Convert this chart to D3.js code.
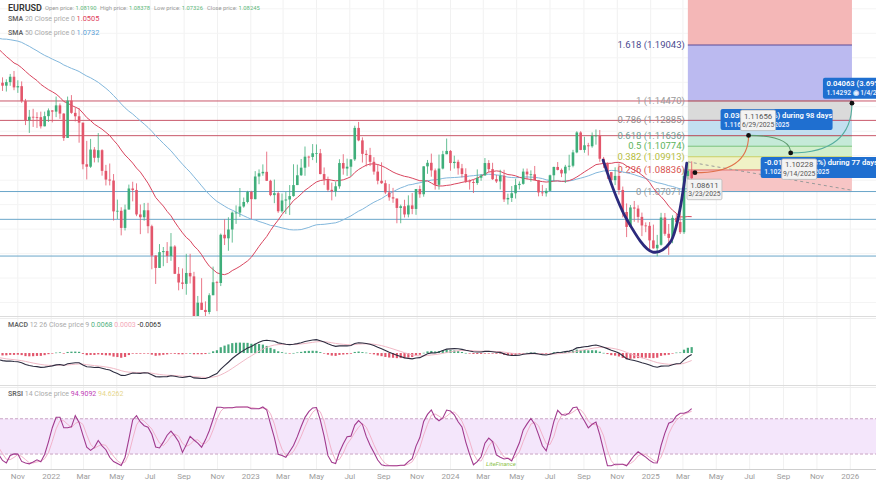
<!DOCTYPE html>
<html>
<head>
<meta charset="utf-8">
<script src="https://cdn.jsdelivr.net/npm/d3@7/dist/d3.min.js"></script>
<style>
  body { margin: 0; background: #fff; font-family: Roboto, "Open Sans", sans-serif; }
  svg { display: block; }
</style>
</head>
<body>
<svg id="chart" width="876" height="483"></svg>
<script>
// weekly EURUSD, weeks start on Monday
var firstWeek = "2021-10-04";

// closes before the visible range (Jun 2020 - Sep 2021), only used by the indicators
var preCloses = [
  1.1290, 1.1255, 1.1177, 1.1220, 1.1247, 1.1300, 1.1427, 1.1655, 1.1778, 1.1788, 1.1842, 1.1795, 1.1903,
  1.1838, 1.1846, 1.1838, 1.1631, 1.1715, 1.1825, 1.1718, 1.1860, 1.1647, 1.1875, 1.1833, 1.1858, 1.1963,
  1.2121, 1.2110, 1.2255, 1.2185, 1.2215,
  1.2219, 1.2077, 1.2170, 1.2136, 1.2047, 1.2119, 1.2119, 1.2075, 1.1915, 1.1950, 1.1905, 1.1795, 1.1762,
  1.1899, 1.1983, 1.2097, 1.2020, 1.2165, 1.2142, 1.2180, 1.2193, 1.2166, 1.2107, 1.1863, 1.1935, 1.1865,
  1.1875, 1.1807, 1.1771, 1.1871, 1.1761, 1.1795, 1.1699, 1.1795, 1.1880, 1.1814, 1.1726, 1.1718, 1.1596
];

var closes = [
  // 2021
  1.1572, 1.1601, 1.1645, 1.1558, 1.1568, 1.1446, 1.1289, 1.1318, 1.1316, 1.1315, 1.1240, 1.1323, 1.1370,
  // 2022
  1.1360, 1.1411, 1.1344, 1.1145, 1.1450, 1.1350, 1.1322, 1.1270, 1.0930, 1.0910, 1.1050, 1.0983, 1.1045,
  1.0876, 1.0805, 1.0797, 1.0545, 1.0550, 1.0410, 1.0560, 1.0732, 1.0720, 1.0520, 1.0497, 1.0554, 1.0424,
  1.0184, 1.0083, 1.0212, 1.0221, 1.0181, 1.0258, 1.0035, 0.9964, 0.9953, 1.0042, 1.0014, 0.9690, 0.9799,
  0.9740, 0.9723, 0.9860, 0.9966, 0.9960, 1.0354, 1.0325, 1.0397, 1.0535, 1.0535, 1.0585, 1.0622, 1.0705,
  // 2023
  1.0645, 1.0830, 1.0856, 1.0868, 1.0795, 1.0678, 1.0694, 1.0546, 1.0634, 1.0642, 1.0670, 1.0760, 1.0840,
  1.0902, 1.0992, 1.0990, 1.1020, 1.1020, 1.0850, 1.0805, 1.0721, 1.0709, 1.0750, 1.0940, 1.0895, 1.0910,
  1.0970, 1.1227, 1.1125, 1.1015, 1.1006, 1.0950, 1.0870, 1.0795, 1.0775, 1.0700, 1.0660, 1.0650, 1.0573,
  1.0587, 1.0520, 1.0594, 1.0565, 1.0728, 1.0685, 1.0913, 1.0942, 1.0880, 1.0762, 1.0895, 1.1012, 1.1039,
  // 2024
  1.0940, 1.0950, 1.0897, 1.0850, 1.0790, 1.0785, 1.0777, 1.0820, 1.0838, 1.0940, 1.0890, 1.0808, 1.0790,
  1.0837, 1.0643, 1.0655, 1.0693, 1.0760, 1.0770, 1.0870, 1.0847, 1.0848, 1.0800, 1.0700, 1.0693, 1.0713,
  1.0840, 1.0908, 1.0884, 1.0855, 1.0910, 1.0918, 1.1027, 1.1190, 1.1047, 1.1085, 1.1077, 1.1163, 1.1165,
  1.0975, 1.0937, 1.0866, 1.0800, 1.0835, 1.0720, 1.0540, 1.0418, 1.0577, 1.0568, 1.0500, 1.0430, 1.0427, 1.0308,
  // 2025
  1.0243, 1.0272, 1.0495, 1.0362, 1.0328, 1.0492, 1.0458, 1.0375, 1.0834, 1.0877, 1.0816
];

var highs = [
  1.1640, 1.1624, 1.1668, 1.1692, 1.1616, 1.1607, 1.1464, 1.1374, 1.1383, 1.1355, 1.1360, 1.1360, 1.1386,
  1.1372, 1.1483, 1.1427, 1.1347, 1.1483, 1.1495, 1.1395, 1.1390, 1.1234, 1.1121, 1.1137, 1.1070, 1.1185,
  1.1053, 1.0925, 1.0936, 1.0850, 1.0641, 1.0579, 1.0600, 1.0764, 1.0787, 1.0774, 1.0601, 1.0614, 1.0615,
  1.0436, 1.0186, 1.0278, 1.0254, 1.0294, 1.0368, 1.0269, 1.0090, 1.0079, 1.0198, 1.0198, 1.0051, 0.9854,
  0.9999, 0.9810, 0.9876, 1.0094, 0.9977, 1.0364, 1.0481, 1.0497, 1.0545, 1.0594, 1.0736, 1.0658, 1.0713,
  1.0713, 1.0874, 1.0888, 1.0929, 1.1033, 1.0803, 1.0805, 1.0707, 1.0691, 1.0703, 1.0760, 1.0930, 1.0927,
  1.0973, 1.1075, 1.1000, 1.1095, 1.1092, 1.1055, 1.0904, 1.0829, 1.0780, 1.0787, 1.0971, 1.1012, 1.0976,
  1.0970, 1.1245, 1.1276, 1.1150, 1.1045, 1.1064, 1.0988, 1.0930, 1.0946, 1.0800, 1.0769, 1.0737, 1.0620,
  1.0600, 1.0640, 1.0676, 1.0695, 1.0727, 1.0756, 1.0914, 1.0965, 1.1017, 1.0895, 1.1009, 1.1040, 1.1140,
  1.1046, 1.1000, 1.0967, 1.0933, 1.0897, 1.0805, 1.0806, 1.0888, 1.0850, 1.0981, 1.0964, 1.0942, 1.0843,
  1.0885, 1.0885, 1.0690, 1.0752, 1.0812, 1.0790, 1.0895, 1.0895, 1.0880, 1.0916, 1.0788, 1.0761, 1.0735,
  1.0845, 1.0910, 1.0948, 1.0895, 1.0925, 1.1008, 1.1048, 1.1200, 1.1200, 1.1155, 1.1105, 1.1190, 1.1214,
  1.1210, 1.0990, 1.0945, 1.0867, 1.0905, 1.0937, 1.0748, 1.0610, 1.0597, 1.0630, 1.0595, 1.0535, 1.0455, 1.0458,
  1.0437, 1.0353, 1.0533, 1.0532, 1.0442, 1.0513, 1.0528, 1.0529, 1.0888, 1.0947, 1.0954
];

var lows = [
  1.1529, 1.1524, 1.1571, 1.1535, 1.1513, 1.1432, 1.1250, 1.1186, 1.1235, 1.1227, 1.1222, 1.1265, 1.1276,
  1.1272, 1.1315, 1.1301, 1.1121, 1.1154, 1.1342, 1.1280, 1.1106, 1.0889, 1.0806, 1.0900, 1.0945, 1.0945,
  1.0837, 1.0757, 1.0757, 1.0470, 1.0483, 1.0349, 1.0389, 1.0560, 1.0627, 1.0506, 1.0359, 1.0469, 1.0366,
  1.0072, 0.9952, 1.0096, 1.0097, 1.0123, 1.0141, 1.0033, 0.9900, 0.9910, 0.9864, 0.9956, 0.9667, 0.9535,
  0.9740, 0.9632, 0.9705, 0.9880, 0.9730, 0.9935, 1.0270, 1.0223, 1.0290, 1.0443, 1.0500, 1.0575, 1.0610,
  1.0483, 1.0643, 1.0767, 1.0836, 1.0793, 1.0669, 1.0612, 1.0533, 1.0533, 1.0524, 1.0516, 1.0665, 1.0760,
  1.0835, 1.0836, 1.0910, 1.0964, 1.0942, 1.0848, 1.0760, 1.0707, 1.0635, 1.0666, 1.0730, 1.0845, 1.0835,
  1.0833, 1.0957, 1.1118, 1.0944, 1.0912, 1.0915, 1.0845, 1.0766, 1.0770, 1.0686, 1.0632, 1.0615, 1.0448,
  1.0448, 1.0495, 1.0496, 1.0522, 1.0517, 1.0656, 1.0665, 1.0852, 1.0828, 1.0723, 1.0723, 1.0888, 1.1030,
  1.0877, 1.0895, 1.0845, 1.0822, 1.0777, 1.0723, 1.0695, 1.0762, 1.0795, 1.0838, 1.0865, 1.0802, 1.0777,
  1.0724, 1.0622, 1.0601, 1.0622, 1.0650, 1.0724, 1.0763, 1.0805, 1.0788, 1.0800, 1.0668, 1.0670, 1.0666,
  1.0710, 1.0790, 1.0880, 1.0825, 1.0777, 1.0880, 1.0905, 1.1020, 1.1045, 1.1024, 1.1002, 1.1065, 1.1090,
  1.0950, 1.0900, 1.0810, 1.0761, 1.0760, 1.0682, 1.0496, 1.0335, 1.0423, 1.0460, 1.0453, 1.0343, 1.0375, 1.0226,
  1.0240, 1.0178, 1.0265, 1.0346, 1.0190, 1.0285, 1.0401, 1.0360, 1.0360, 1.0808, 1.0797
];

// fibonacci retracement drawn on the right
var fibLevels = [0, 0.236, 0.382, 0.5, 0.618, 0.786, 1, 1.618, 2.618];
var fibPrices = [1.07071, 1.08836, 1.09913, 1.10774, 1.11636, 1.12885, 1.14470, 1.19043, 1.26442];
var fibFill = ["#f7c5c5", "#f0f2c6", "#d3efcc", "#c5ead8", "#c2dff0", "#dadada", "#bbbaf0", "#f4b7b7"];
var fibLine = ["#a8a8a8", "#e06a6a", "#c9cf63", "#79c27a", "#5fa89a", "#6fa6d6", "#9a9a9a", "#5a4b96", "#e08080"];
var fibText = ["#9a9a9a", "#d9534f", "#b6bd3d", "#5cb35c", "#6f9f95", "#8e8e8e", "#9a9a9a", "#4b4b8f", "#d9534f"];
var fibStart = "2025-03-10";
var fibEnd = "2026-01-04";

// support / resistance lines
var redLevels = [1.14470, 1.12885, 1.11636];
var blueLevels = [1.07071, 1.04800, 1.01800];

// hand drawn rounded bottom
var bowlDates = ["2024-10-06", "2024-11-19", "2025-01-05", "2025-02-05", "2025-03-08"];
var bowlPrices = [1.0964, 1.0474, 1.0213, 1.0287, 1.0940];

// dashed trend line
var trendDates = ["2025-03-10", "2026-01-04"];
var trendPrices = [1.0950, 1.0718];

// projection path
var projDates = ["2025-03-23", "2025-06-29", "2025-09-14", "2026-01-04"];
var projPrices = [1.08611, 1.11656, 1.10228, 1.14292];
var projLabels = ["3/23/2025", "6/29/2025", "9/14/2025", "1/4/2026"];
var projColors = ["#e0714a", "#5f9a6e", "#55ad9e"];
var projDiff = ["0.03045 (2.80%) during 98 days", "-0.01428 (-1.28%) during 77 days", "0.04063 (3.69%) during 112 days"];

var width = 876, height = 483;
var mainTop = 0, mainBottom = 316;
var macdTop = 318, macdBottom = 384;
var srsiTop = 387, srsiBottom = 469;

var parse = d3.utcParse("%Y-%m-%d");
var svg = d3.select("#chart");

var x = d3.scaleUtc()
    .domain([parse("2022-01-01"), parse("2026-01-01")])
    .range([51.2, 850.3]);

var y = d3.scaleLinear()
    .domain([0.96903, 1.22720])
    .range([mainBottom, mainTop]);

var yMacd = d3.scaleLinear()
    .domain([-0.0344, 0.0389])
    .range([macdBottom, macdTop]);

var ySrsi = d3.scaleLinear()
    .domain([0, 100])
    .range([465.8, 407]);

// build candles, open = previous close
var first = parse(firstWeek);
var candles = closes.map(function (c, i) {
    var o = i === 0 ? preCloses[preCloses.length - 1] : closes[i - 1];
    return {
        date: d3.utcDay.offset(first, 7 * i),
        open: o,
        close: c,
        high: Math.max(highs[i], o, c),
        low: Math.min(lows[i], o, c)
    };
});

var allCloses = preCloses.concat(closes);
var allDates = allCloses.map(function (c, i) {
    return d3.utcDay.offset(first, 7 * (i - preCloses.length));
});

// indicators
function sma(arr, n) {
    return arr.map(function (v, i) {
        if (i < n - 1) return null;
        var win = arr.slice(i - n + 1, i + 1);
        if (win.some(function (w) { return w === null; })) return null;
        return d3.mean(win);
    });
}
function ema(arr, n) {
    var k = 2 / (n + 1), prev = null;
    return arr.map(function (v) {
        prev = prev === null ? v : v * k + prev * (1 - k);
        return prev;
    });
}
function rsi(arr, n) {
    var out = arr.map(function () { return null; }), g = 0, l = 0;
    for (var i = 1; i < arr.length; i++) {
        var ch = arr[i] - arr[i - 1], up = Math.max(ch, 0), dn = Math.max(-ch, 0);
        if (i <= n) {
            g += up / n; l += dn / n;
            if (i === n) out[i] = 100 - 100 / (1 + g / l);
        } else {
            g = (g * (n - 1) + up) / n;
            l = (l * (n - 1) + dn) / n;
            out[i] = l === 0 ? 100 : 100 - 100 / (1 + g / l);
        }
    }
    return out;
}

var sma20 = sma(allCloses, 20);
var sma50 = sma(allCloses, 50);
var ema12 = ema(allCloses, 12);
var ema26 = ema(allCloses, 26);
var macd = ema12.map(function (v, i) { return v - ema26[i]; });
var signal = ema(macd, 9);
var hist = macd.map(function (v, i) { return v - signal[i]; });

var rsi14 = rsi(allCloses, 14);
var stoch = rsi14.map(function (v, i) {
    if (i < 27) return null;
    var win = rsi14.slice(i - 13, i + 1);
    var lo = d3.min(win), hi = d3.max(win);
    return hi === lo ? 100 : (v - lo) / (hi - lo) * 100;
});
var kLine = sma(stoch, 3);
var dLine = sma(kLine, 3);

// clip paths for the three panes
var defs = svg.append("defs");
defs.append("clipPath").attr("id", "clipMain").append("rect")
    .attr("x", 0).attr("y", mainTop).attr("width", width).attr("height", mainBottom - mainTop);
defs.append("clipPath").attr("id", "clipMacd").append("rect")
    .attr("x", 0).attr("y", macdTop).attr("width", width).attr("height", macdBottom - macdTop);
defs.append("clipPath").attr("id", "clipSrsi").append("rect")
    .attr("x", 0).attr("y", srsiTop).attr("width", width).attr("height", srsiBottom - srsiTop);

// grid, two-month ticks over the whole visible range
var ticks = d3.utcMonth.every(2).range(x.invert(0), x.invert(width));
svg.append("g").selectAll("line")
    .data(ticks)
    .enter()
    .append("line")
    .attr("x1", function (d) { return x(d); })
    .attr("x2", function (d) { return x(d); })
    .attr("y1", 0)
    .attr("y2", srsiBottom)
    .attr("stroke", "#f1f1f1");

svg.append("g").selectAll("line")
    .data(d3.range(0.98, 1.23, 0.02))
    .enter()
    .append("line")
    .attr("x1", 0).attr("x2", width)
    .attr("y1", function (d) { return y(d); })
    .attr("y2", function (d) { return y(d); })
    .attr("stroke", "#f4f4f4");

// pane separators
[mainBottom + 0.5, macdTop + 0.5, macdBottom + 1.5, srsiTop + 0.5].forEach(function (v, i) {
    svg.append("line")
        .attr("x1", 0).attr("x2", width)
        .attr("y1", v).attr("y2", v)
        .attr("stroke", i % 2 === 0 ? "#dcdcdc" : "#ededed");
});

var main = svg.append("g").attr("clip-path", "url(#clipMain)");

// fib zones
var fx0 = x(parse(fibStart)), fx1 = x(parse(fibEnd));
main.append("g").selectAll("rect")
    .data(fibFill)
    .enter()
    .append("rect")
    .attr("x", fx0)
    .attr("width", fx1 - fx0)
    .attr("y", function (d, i) { return y(fibPrices[i + 1]); })
    .attr("height", function (d, i) { return y(fibPrices[i]) - y(fibPrices[i + 1]); })
    .attr("fill", function (d) { return d; });

main.append("g").selectAll("line")
    .data(fibPrices)
    .enter()
    .append("line")
    .attr("x1", fx0).attr("x2", fx1)
    .attr("y1", function (d) { return y(d); })
    .attr("y2", function (d) { return y(d); })
    .attr("stroke", function (d, i) { return fibLine[i]; })
    .attr("stroke-width", 1);

// horizontal levels
main.append("g").selectAll("line")
    .data(redLevels)
    .enter()
    .append("line")
    .attr("x1", 0).attr("x2", width)
    .attr("y1", function (d) { return y(d); })
    .attr("y2", function (d) { return y(d); })
    .attr("stroke", "#c9586a")
    .attr("stroke-width", 1);

main.append("g").selectAll("line")
    .data(blueLevels)
    .enter()
    .append("line")
    .attr("x1", 0).attr("x2", width)
    .attr("y1", function (d) { return y(d); })
    .attr("y2", function (d) { return y(d); })
    .attr("stroke", "#6aa6c9")
    .attr("stroke-width", 1);

// fib labels, only the levels that sit inside the pane
main.append("g").selectAll("text")
    .data(fibLevels.filter(function (d, i) { return y(fibPrices[i]) > 8; }))
    .enter()
    .append("text")
    .attr("x", fx0 - 3)
    .attr("y", function (d, i) { return y(fibPrices[i]) + 3; })
    .attr("text-anchor", "end")
    .style("font-size", "9.5px")
    .attr("fill", function (d, i) { return fibText[i]; })
    .text(function (d, i) { return d + " (" + fibPrices[i].toFixed(5) + ")"; });

// moving averages
var maLine = function (values) {
    return d3.line()
        .defined(function (d, i) { return values[i] !== null; })
        .x(function (d) { return x(d); })
        .y(function (d, i) { return y(values[i]); });
};
main.append("path")
    .datum(allDates)
    .attr("d", maLine(sma50))
    .attr("fill", "none")
    .attr("stroke", "#82b7dc")
    .attr("stroke-width", 1);
main.append("path")
    .datum(allDates)
    .attr("d", maLine(sma20))
    .attr("fill", "none")
    .attr("stroke", "#d9465f")
    .attr("stroke-width", 1);

// candles
var up = "#3fae7a", down = "#e3566b";
var bar = main.append("g").selectAll("g")
    .data(candles)
    .enter()
    .append("g");
bar.append("line")
    .attr("x1", function (d) { return x(d.date); })
    .attr("x2", function (d) { return x(d.date); })
    .attr("y1", function (d) { return y(d.high); })
    .attr("y2", function (d) { return y(d.low); })
    .attr("stroke", function (d) { return d.close >= d.open ? up : down; })
    .attr("stroke-width", 0.8);
bar.append("rect")
    .attr("x", function (d) { return x(d.date) - 1.3; })
    .attr("width", 2.6)
    .attr("y", function (d) { return y(Math.max(d.open, d.close)); })
    .attr("height", function (d) { return Math.max(0.8, Math.abs(y(d.open) - y(d.close))); })
    .attr("fill", function (d) { return d.close >= d.open ? up : down; });

// rounded bottom
main.append("path")
    .datum(bowlDates)
    .attr("d", d3.line()
        .curve(d3.curveCatmullRom.alpha(0.5))
        .x(function (d) { return x(parse(d)); })
        .y(function (d, i) { return y(bowlPrices[i]); }))
    .attr("fill", "none")
    .attr("stroke", "#2c2a7c")
    .attr("stroke-width", 2.8)
    .attr("stroke-linecap", "round");

// dashed trend
main.append("line")
    .attr("x1", x(parse(trendDates[0])))
    .attr("y1", y(trendPrices[0]))
    .attr("x2", x(parse(trendDates[1])))
    .attr("y2", y(trendPrices[1]))
    .attr("stroke", "#9b9b9b")
    .attr("stroke-width", 1)
    .attr("stroke-dasharray", "3,3");

// projection segments
var pts = projDates.map(function (d, i) {
    return { x: x(parse(d)), y: y(projPrices[i]), price: projPrices[i], label: projLabels[i] };
});
for (var s = 0; s < pts.length - 1; s++) {
    var p0 = pts[s], p1 = pts[s + 1];
    var path = d3.path();
    path.moveTo(p0.x, p0.y);
    path.quadraticCurveTo(p1.x, p0.y, p1.x, p1.y);
    main.append("path")
        .attr("d", path.toString())
        .attr("fill", "none")
        .attr("stroke", projColors[s])
        .attr("stroke-width", 1.1);
}
main.append("g").selectAll("circle")
    .data(pts)
    .enter()
    .append("circle")
    .attr("cx", function (d) { return d.x; })
    .attr("cy", function (d) { return d.y; })
    .attr("r", 2.4)
    .attr("fill", "#111");

// blue info boxes, offsets from the point they belong to
var boxPos = [
    { p: 1, dx: -28, dy: -26.3, w: 112 },
    { p: 2, dx: -30, dy: 4, w: 130 },
    { p: 3, dx: -29, dy: -25.3, w: 120 }
];
boxPos.forEach(function (b, i) {
    var p = pts[b.p];
    var g = main.append("g").attr("transform", "translate(" + (p.x + b.dx) + "," + (p.y + b.dy) + ")");
    g.append("rect").attr("width", b.w).attr("height", 21).attr("rx", 2).attr("fill", "#1f6fd0");
    g.append("text").attr("x", 3.5).attr("y", 8.5)
        .style("font-size", "7.6px").style("font-weight", 600).attr("fill", "#fff")
        .text(projDiff[i]);
    g.append("text").attr("x", 3.5).attr("y", 17.5)
        .style("font-size", "6.6px").style("font-weight", 600).attr("fill", "#e8f0ff")
        .text(p.price.toFixed(5) + " \u25C9 " + p.label);
});

// white point labels
var tagPos = [
    { dx: -8, dy: 6.5 },
    { dx: -8, dy: -25.3 },
    { dx: -9, dy: 6 },
    null
];
pts.forEach(function (p, i) {
    if (!tagPos[i]) return;
    var g = main.append("g").attr("transform", "translate(" + (p.x + tagPos[i].dx) + "," + (p.y + tagPos[i].dy) + ")");
    g.append("rect").attr("width", 35).attr("height", 20.5).attr("rx", 1.5)
        .attr("fill", "#f3f3f3").attr("stroke", "#b9b9b9").attr("stroke-width", 0.8);
    g.append("text").attr("x", 17.5).attr("y", 8.5).attr("text-anchor", "middle")
        .style("font-size", "7.8px").attr("fill", "#555").text(p.price.toFixed(5));
    g.append("text").attr("x", 17.5).attr("y", 17.3).attr("text-anchor", "middle")
        .style("font-size", "6.8px").attr("fill", "#555").text(p.label);
});

// MACD pane
var macdG = svg.append("g").attr("clip-path", "url(#clipMacd)");
macdG.append("g").selectAll("rect")
    .data(allDates)
    .enter()
    .append("rect")
    .attr("x", function (d) { return x(d) - 1.1; })
    .attr("width", 2.2)
    .attr("y", function (d, i) { return Math.min(yMacd(0), yMacd(hist[i])); })
    .attr("height", function (d, i) { return Math.max(0.6, Math.abs(yMacd(hist[i]) - yMacd(0))); })
    .attr("fill", function (d, i) { return hist[i] >= 0 ? "#46a97c" : "#e2566c"; });
var macdLine = function (values) {
    return d3.line()
        .x(function (d) { return x(d); })
        .y(function (d, i) { return yMacd(values[i]); });
};
macdG.append("path").datum(allDates).attr("d", macdLine(signal))
    .attr("fill", "none").attr("stroke", "#f1b9c6").attr("stroke-width", 1);
macdG.append("path").datum(allDates).attr("d", macdLine(macd))
    .attr("fill", "none").attr("stroke", "#2d2d40").attr("stroke-width", 1.1);

// SRSI pane
var srsiG = svg.append("g").attr("clip-path", "url(#clipSrsi)");
srsiG.append("rect")
    .attr("x", 0).attr("width", width)
    .attr("y", ySrsi(80)).attr("height", ySrsi(20) - ySrsi(80))
    .attr("fill", "#f4e6fb");
[80, 20].forEach(function (v) {
    srsiG.append("line")
        .attr("x1", 0).attr("x2", width)
        .attr("y1", ySrsi(v)).attr("y2", ySrsi(v))
        .attr("stroke", "#c9a3c4").attr("stroke-dasharray", "3,2");
});
var srsiLine = function (values) {
    return d3.line()
        .defined(function (d, i) { return values[i] !== null; })
        .x(function (d) { return x(d); })
        .y(function (d, i) { return ySrsi(values[i]); });
};
srsiG.append("path").datum(allDates).attr("d", srsiLine(dLine))
    .attr("fill", "none").attr("stroke", "#f2b3cb").attr("stroke-width", 1);
srsiG.append("path").datum(allDates).attr("d", srsiLine(kLine))
    .attr("fill", "none").attr("stroke", "#a13a8e").attr("stroke-width", 1.1);

// x axis
svg.append("line")
    .attr("x1", 0).attr("x2", width)
    .attr("y1", srsiBottom + 0.5).attr("y2", srsiBottom + 0.5)
    .attr("stroke", "#cfcfcf");
var monthFmt = d3.utcFormat("%b"), yearFmt = d3.utcFormat("%Y");
svg.append("g").selectAll("text")
    .data(ticks)
    .enter()
    .append("text")
    .attr("x", function (d) { return x(d); })
    .attr("y", 479)
    .attr("text-anchor", "middle")
    .style("font-size", "8px")
    .attr("fill", "#9c9c9c")
    .text(function (d) { return d.getUTCMonth() === 0 ? yearFmt(d) : monthFmt(d); });

// watermark
svg.append("text")
    .attr("x", 486).attr("y", 466)
    .style("font-size", "6px").style("font-style", "italic")
    .attr("fill", "#8cc24a")
    .text("LiteFinance");

// legends
function legend(xPos, yPos, parts) {
    var t = svg.append("text").attr("x", xPos).attr("y", yPos);
    parts.forEach(function (p) {
        t.append("tspan")
            .style("font-size", p.size + "px")
            .style("font-weight", p.bold ? 600 : 400)
            .attr("fill", p.color)
            .text(p.text);
    });
}
legend(8, 10.5, [{ text: "EURUSD", size: 9, bold: true, color: "#333" }]);
legend(45, 10, [{ text: "Open price: ", size: 5.8, color: "#999" }, { text: "1.08190", size: 5.8, color: "#5cb87a" }]);
legend(100, 10, [{ text: "High price: ", size: 5.8, color: "#999" }, { text: "1.08378", size: 5.8, color: "#5cb87a" }]);
legend(154, 10, [{ text: "Low price: ", size: 5.8, color: "#999" }, { text: "1.07326", size: 5.8, color: "#5cb87a" }]);
legend(207, 10, [{ text: "Close price: ", size: 5.8, color: "#999" }, { text: "1.08245", size: 5.8, color: "#5cb87a" }]);
legend(8, 20.8, [
    { text: "SMA", size: 7, bold: true, color: "#666" },
    { text: " 20 Close price 0 ", size: 7, color: "#aaa" },
    { text: "1.0505", size: 7.4, color: "#e0405a" }
]);
legend(8, 34.6, [
    { text: "SMA", size: 7, bold: true, color: "#666" },
    { text: " 50 Close price 0 ", size: 7, color: "#aaa" },
    { text: "1.0732", size: 7.4, color: "#5d9fd6" }
]);
legend(8, 327, [
    { text: "MACD", size: 7, bold: true, color: "#666" },
    { text: " 12 26 Close price 9 ", size: 7, color: "#aaa" },
    { text: "0.0068", size: 7, color: "#4fb07e" },
    { text: " 0.0003", size: 7, color: "#f4a8b8" },
    { text: " -0.0065", size: 7, color: "#333" }
]);
legend(8, 395.5, [
    { text: "SRSI", size: 7, bold: true, color: "#666" },
    { text: " 14 Close price ", size: 7, color: "#aaa" },
    { text: "94.9092", size: 7, color: "#c040b8" },
    { text: " 94.6262", size: 7, color: "#e6d68c" }
]);
</script>
</body>
</html>
